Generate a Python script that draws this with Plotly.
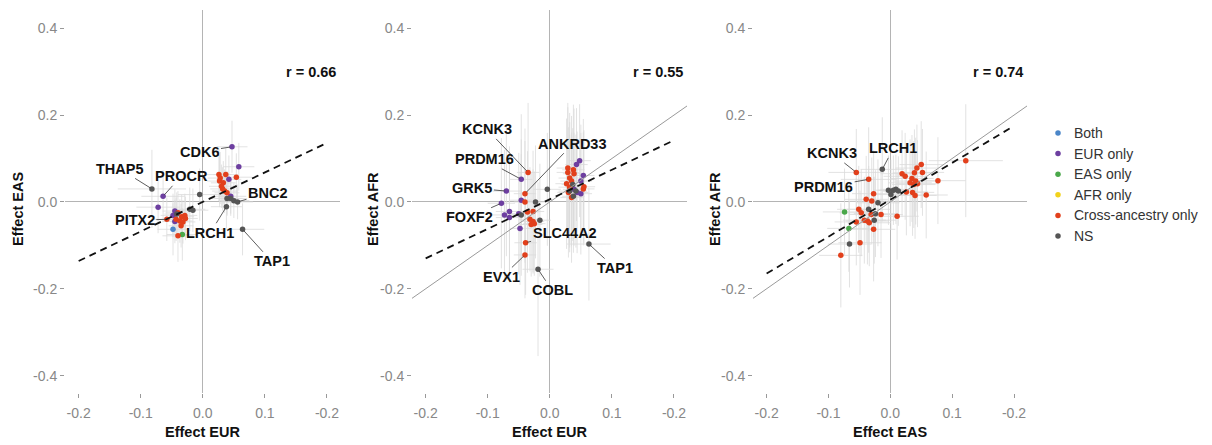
import plotly.graph_objects as go

# ---------------- data ----------------
CATS = ["Both", "EUR only", "EAS only", "AFR only", "Cross-ancestry only", "NS"]
CAT_COLORS = {"Both": "#4b86c8", "EUR only": "#6d3fa0", "EAS only": "#4aa84a",
              "AFR only": "#f2d21b", "Cross-ancestry only": "#e2401c", "NS": "#555555"}

# Panel 1: EUR (x) vs EAS (y)
p1_x = [0.047, 0.058, 0.054, 0.042, 0.026, 0.037, 0.027, 0.033, 0.030, 0.035, 0.039, 0.032, 0.028,
        0.045, 0.039, 0.045, 0.050, 0.056, 0.038, 0.064, -0.005, -0.082, -0.064, -0.072, -0.045,
        -0.040, -0.048, -0.034, -0.029, -0.043, -0.037, -0.032, -0.048, -0.016, -0.021, -0.058,
        -0.033, -0.040, -0.045, -0.035, -0.028, -0.042]
p1_y = [0.127, 0.081, 0.057, 0.052, 0.063, 0.063, 0.048, 0.044, 0.036, 0.025, 0.021, 0.030, 0.055,
        0.013, 0.008, 0.008, 0.003, 0.000, -0.011, -0.063, 0.017, 0.030, 0.013, -0.012, -0.021,
        -0.025, -0.031, -0.034, -0.031, -0.040, -0.044, -0.046, -0.063, -0.019, -0.017, -0.040,
        -0.075, -0.078, -0.045, -0.055, -0.038, -0.028]
p1_ex = [0.025, 0.025, 0.025, 0.020, 0.020, 0.020, 0.020, 0.020, 0.020, 0.020, 0.020, 0.020, 0.020,
         0.025, 0.025, 0.025, 0.025, 0.025, 0.025, 0.035, 0.035, 0.055, 0.035, 0.035, 0.020,
         0.020, 0.020, 0.020, 0.020, 0.020, 0.020, 0.020, 0.025, 0.025, 0.025, 0.025,
         0.025, 0.025, 0.020, 0.020, 0.020, 0.020]
p1_ey = [0.060, 0.055, 0.055, 0.055, 0.060, 0.060, 0.060, 0.050, 0.050, 0.050, 0.050, 0.050, 0.060,
         0.040, 0.040, 0.040, 0.040, 0.040, 0.050, 0.060, 0.060, 0.090, 0.060, 0.060, 0.050,
         0.050, 0.050, 0.050, 0.050, 0.050, 0.050, 0.050, 0.060, 0.050, 0.050, 0.050,
         0.060, 0.060, 0.050, 0.050, 0.050, 0.050]
p1_cat = ["EUR only", "EUR only", "Cross-ancestry only", "EUR only"] + ["Cross-ancestry only"] * 9 + \
         ["EUR only", "NS", "NS", "NS", "NS", "NS", "NS", "NS", "NS", "EUR only", "EUR only", "EUR only",
          "Cross-ancestry only", "EUR only", "Cross-ancestry only", "Cross-ancestry only",
          "Cross-ancestry only", "Cross-ancestry only", "Cross-ancestry only", "Both", "NS", "NS",
          "Cross-ancestry only", "EAS only", "Cross-ancestry only", "EUR only",
          "Cross-ancestry only", "Cross-ancestry only", "NS"]

# Panel 2: EUR (x) vs AFR (y)
p2_x = [-0.035, -0.046, -0.040, -0.070, -0.078, -0.046, -0.040, -0.023, -0.004, -0.073, -0.065,
        -0.065, -0.050, -0.046, -0.036, -0.027, -0.032, -0.027, -0.025, -0.030, -0.016, -0.048,
        -0.039, -0.040, -0.019, 0.063, 0.048, 0.043, 0.054, 0.050, 0.044, 0.050, 0.029, 0.029,
        0.038, 0.039, 0.032, 0.035, 0.027, 0.032, 0.030, 0.035, 0.054, 0.055, 0.037, 0.032,
        0.038, 0.042, 0.039]
p2_y = [0.068, 0.052, 0.019, 0.025, -0.003, 0.004, 0.000, 0.000, 0.029, -0.030, -0.022, -0.036,
        -0.027, -0.030, -0.023, -0.022, -0.040, -0.045, -0.050, -0.052, -0.042, -0.061, -0.094,
        -0.122, -0.155, -0.097, 0.095, 0.086, 0.061, 0.048, 0.022, 0.019, 0.078, 0.068, 0.074,
        0.065, 0.055, 0.048, 0.042, 0.034, 0.022, 0.010, 0.030, 0.035, 0.040, 0.025, 0.013,
        0.025, 0.029]
p2_ex = [0.018, 0.018, 0.018, 0.022, 0.022, 0.018, 0.018, 0.018, 0.022, 0.022, 0.022, 0.022,
         0.018, 0.018, 0.018, 0.018, 0.018, 0.018, 0.018, 0.018, 0.018, 0.018, 0.018, 0.018,
         0.025, 0.035] + [0.018] * 23
p2_ey = [0.160, 0.150, 0.150, 0.150, 0.150, 0.140, 0.140, 0.130, 0.130, 0.150, 0.150, 0.150,
         0.140, 0.140, 0.140, 0.140, 0.120, 0.120, 0.120, 0.120, 0.130, 0.130, 0.120, 0.100,
         0.200, 0.130, 0.130, 0.130, 0.130, 0.130, 0.140, 0.140, 0.150, 0.150, 0.150, 0.150,
         0.150, 0.150, 0.150, 0.150, 0.150, 0.150, 0.130, 0.130, 0.130, 0.130, 0.130, 0.130,
         0.130]
p2_cat = ["Cross-ancestry only", "EUR only", "Cross-ancestry only", "EUR only", "EUR only",
          "EUR only", "Cross-ancestry only", "NS", "NS", "EUR only", "EUR only", "EUR only",
          "EUR only", "NS", "Cross-ancestry only", "Cross-ancestry only", "Cross-ancestry only",
          "Cross-ancestry only", "Cross-ancestry only", "Cross-ancestry only", "NS", "EUR only",
          "Cross-ancestry only", "Cross-ancestry only", "NS", "NS", "EUR only", "EUR only",
          "EUR only", "EUR only", "EUR only", "EUR only"] + ["Cross-ancestry only"] * 12 + \
         ["NS", "NS", "NS", "NS", "EUR only"]

# Panel 3: EAS (x) vs AFR (y)
p3_x = [-0.055, -0.013, -0.035, -0.027, -0.039, -0.030, -0.020, -0.003, 0.005, 0.009, 0.013, 0.001,
        0.019, 0.024, 0.043, 0.050, 0.039, 0.052, 0.035, 0.041, 0.038, 0.032, 0.044, 0.026, 0.036,
        0.040, 0.058, 0.077, 0.122, -0.074, -0.067, -0.066, -0.080, -0.049, -0.051, -0.047,
        -0.035, -0.055, -0.042, -0.037, -0.034, -0.024, -0.026, -0.015, -0.027, 0.011, -0.031]
p3_y = [0.068, 0.075, 0.052, 0.019, 0.006, 0.002, -0.002, 0.027, 0.027, 0.029, 0.025, 0.017,
        0.065, 0.059, 0.078, 0.086, 0.067, 0.068, 0.054, 0.048, 0.040, 0.044, 0.042, 0.023, 0.022,
        0.015, 0.016, 0.049, 0.095, -0.023, -0.061, -0.097, -0.123, -0.094, -0.017, -0.025,
        -0.017, -0.046, -0.042, -0.044, -0.048, -0.027, -0.042, -0.029, -0.063, -0.033, -0.029]
p3_ex = [0.045, 0.035, 0.045, 0.035, 0.035, 0.035, 0.035, 0.025, 0.025, 0.025, 0.025, 0.025] + \
         [0.035] * 15 + [0.045, 0.060] + [0.035] * 18
p3_ey = [0.100, 0.120, 0.120, 0.100, 0.100, 0.100, 0.100, 0.080, 0.080, 0.080, 0.080, 0.080] + \
        [0.100] * 15 + [0.100, 0.130, 0.100, 0.100, 0.100, 0.120, 0.120] + [0.100] * 10 + [0.120, 0.100]
p3_cat = ["Cross-ancestry only", "NS", "Cross-ancestry only", "Cross-ancestry only",
          "Cross-ancestry only", "Cross-ancestry only", "NS", "NS", "NS", "NS", "NS", "NS"] + \
         ["Cross-ancestry only"] * 17 + ["EAS only", "EAS only", "NS", "Cross-ancestry only",
          "Cross-ancestry only", "Cross-ancestry only", "Cross-ancestry only", "NS",
          "Cross-ancestry only", "Cross-ancestry only", "Cross-ancestry only", "Cross-ancestry only",
          "NS", "NS", "Cross-ancestry only", "Cross-ancestry only", "Cross-ancestry only",
          "Cross-ancestry only"]

# labelled genes: (point index, gene)
p1_labels = [(0, "CDK6"), (21, "THAP5"), (22, "PROCR"), (17, "BNC2"), (35, "PITX2"), (18, "LRCH1"), (19, "TAP1")]
p2_labels = [(0, "KCNK3"), (2, "ANKRD33"), (1, "PRDM16"), (3, "GRK5"), (4, "FOXF2"), (22, "SLC44A2"),
             (23, "EVX1"), (24, "COBL"), (25, "TAP1")]
p3_labels = [(0, "KCNK3"), (1, "LRCH1"), (2, "PRDM16")]

# regression fits (slope, intercept, x start, x end) and correlations
fit_slope = [0.68, 0.68, 0.85]
fit_intercept = [0.0, 0.006, 0.005]
fit_x = [[-0.2, 0.2], [-0.2, 0.2], [-0.2, 0.197]]
r_values = ["r = 0.66", "r = 0.55", "r = 0.74"]
identity_x = [-0.222, 0.221]
show_identity = [False, True, True]

x_titles = ["Effect EUR", "Effect EUR", "Effect EAS"]
y_titles = ["Effect EAS", "Effect AFR", "Effect AFR"]
x_tickvals = [-0.2, -0.1, 0.0, 0.1, 0.2]
x_ticktext = ["-0.2", "-0.1", "0.0", "0.1", "-0.2"]
y_tickvals = [-0.4, -0.2, 0.0, 0.2, 0.4]
y_ticktext = ["-0.4", "-0.2", "0.0", "0.2", "0.4"]

# ---------------- layout helpers ----------------
W, H = 1212, 445
dom_px = [(65, 340), (412, 687), (753, 1027)]
ydom = [1 - 393 / H, 1 - 10 / H]
XR = [-0.222, 0.221]
YR = [-0.44, 0.442]
label_offsets = [
    [(-32, 5), (-32, -20), (18, -20), (30, -9), (-32, 1), (-16, 26), (29, 32)],
    [(-41, -43), (48, -50), (-37, -20), (-34, -3), (-32, 14), (39, -10), (-23, 22), (14, 21), (26, 24)],
    [(-24, -19), (11, -21), (-45, 8)],
]
ytitle_px = [18, 373, 715]
FONT = "Liberation Sans, Arial, Helvetica, sans-serif"

panels = [(p1_x, p1_y, p1_ex, p1_ey, p1_cat, p1_labels),
          (p2_x, p2_y, p2_ex, p2_ey, p2_cat, p2_labels),
          (p3_x, p3_y, p3_ex, p3_ey, p3_cat, p3_labels)]

fig = go.Figure()
annotations = []

for i, (px, py, pex, pey, pcat, plab) in enumerate(panels):
    xa = "x" if i == 0 else f"x{i+1}"
    ya = "y" if i == 0 else f"y{i+1}"
    # error bars (drawn first, under the points)
    fig.add_trace(go.Scatter(
        x=px, y=py, mode="markers", xaxis=xa, yaxis=ya, showlegend=False, hoverinfo="skip",
        marker=dict(size=1, opacity=0),
        error_x=dict(type="data", array=pex, color="#dadada", thickness=0.8, width=0),
        error_y=dict(type="data", array=pey, color="#dadada", thickness=0.8, width=0)))
    # points by category
    for c in CATS:
        idx = [k for k, cc in enumerate(pcat) if cc == c]
        if not idx:
            continue
        fig.add_trace(go.Scatter(
            x=[px[k] for k in idx], y=[py[k] for k in idx], mode="markers",
            xaxis=xa, yaxis=ya, showlegend=False, name=c,
            marker=dict(size=5.5, color=CAT_COLORS[c], line=dict(width=0))))
    # identity line
    if show_identity[i]:
        fig.add_trace(go.Scatter(
            x=identity_x, y=identity_x, mode="lines", xaxis=xa, yaxis=ya, showlegend=False,
            line=dict(color="#9a9a9a", width=1), hoverinfo="skip"))
    # regression line
    fx = fit_x[i]
    fig.add_trace(go.Scatter(
        x=fx, y=[fit_slope[i] * v + fit_intercept[i] for v in fx], mode="lines",
        xaxis=xa, yaxis=ya, showlegend=False, hoverinfo="skip",
        line=dict(color="#111111", width=1.8, dash="7px,5px")))
    # r annotation
    annotations.append(dict(x=0.218, y=0.30, xref=xa, yref=ya, text=f"<b>{r_values[i]}</b>",
                            showarrow=False, xanchor="right", yanchor="middle",
                            font=dict(size=14.5, color="#111111", family=FONT)))
    # gene labels
    for (k, gene), (ax, ay) in zip(plab, label_offsets[i]):
        annotations.append(dict(x=px[k], y=py[k], xref=xa, yref=ya, text=f"<b>{gene}</b>",
                                showarrow=True, arrowhead=0, arrowwidth=0.8, arrowcolor="#333333",
                                ax=ax, ay=ay, standoff=2,
                                font=dict(size=14.5, color="#111111", family=FONT)))
    # axis titles
    x0, x1 = dom_px[i]
    annotations.append(dict(x=(x0 + x1) / 2 / W, y=1 - 432 / H, xref="paper", yref="paper",
                            xanchor="center", yanchor="middle",
                            text=f"<b>{x_titles[i]}</b>", showarrow=False,
                            font=dict(size=14.5, color="#111111", family=FONT)))
    annotations.append(dict(x=ytitle_px[i] / W, y=1 - 209 / H, xref="paper", yref="paper",
                            xanchor="center", yanchor="middle",
                            text=f"<b>{y_titles[i]}</b>", showarrow=False, textangle=-90,
                            font=dict(size=14.5, color="#111111", family=FONT)))

# manual legend on a hidden pixel-scaled axis
LEG_X0, LEG_X1, LEG_Y0, LEG_Y1 = 1035, 1212, 120, 250
leg_marker_x = 1058
leg_text_x = 1072
leg_y = [133 + 20.6 * k for k in range(len(CATS))]
fig.add_trace(go.Scatter(
    x=[leg_marker_x] * len(CATS), y=leg_y, mode="markers", xaxis="x4", yaxis="y4",
    showlegend=False, hoverinfo="skip",
    marker=dict(size=5.5, color=[CAT_COLORS[c] for c in CATS])))
for c, yy in zip(CATS, leg_y):
    annotations.append(dict(x=leg_text_x, y=yy, xref="x4", yref="y4", text=c, showarrow=False,
                            xanchor="left", yanchor="middle",
                            font=dict(size=14, color="#333333", family=FONT)))

axis_common = dict(showgrid=False, zeroline=True, zerolinecolor="#b4b4b4", zerolinewidth=1,
                   showline=False, ticks="outside", ticklen=4, tickcolor="#999999", tickwidth=1,
                   tickfont=dict(size=14, color="#888888", family=FONT))
layout = dict(width=W, height=H, margin=dict(l=0, r=0, t=0, b=0),
              paper_bgcolor="white", plot_bgcolor="white", showlegend=False,
              annotations=annotations)
for i in range(3):
    x0, x1 = dom_px[i]
    xkey = "xaxis" if i == 0 else f"xaxis{i+1}"
    ykey = "yaxis" if i == 0 else f"yaxis{i+1}"
    layout[xkey] = dict(domain=[x0 / W, x1 / W], range=XR, tickvals=x_tickvals, ticktext=x_ticktext,
                        anchor="y" if i == 0 else f"y{i+1}", ticklabelstandoff=3, **axis_common)
    layout[ykey] = dict(domain=ydom, range=YR, tickvals=y_tickvals, ticktext=y_ticktext,
                        anchor="x" if i == 0 else f"x{i+1}", **axis_common)
layout["xaxis4"] = dict(domain=[LEG_X0 / W, LEG_X1 / W], range=[LEG_X0, LEG_X1], visible=False,
                        anchor="y4", fixedrange=True)
layout["yaxis4"] = dict(domain=[1 - LEG_Y1 / H, 1 - LEG_Y0 / H], range=[LEG_Y1, LEG_Y0],
                        visible=False, anchor="x4", fixedrange=True)
fig.update_layout(**layout)
fig.write_html("out.html", config={"displayModeBar": False},
               post_script="document.body.style.margin='0';")
